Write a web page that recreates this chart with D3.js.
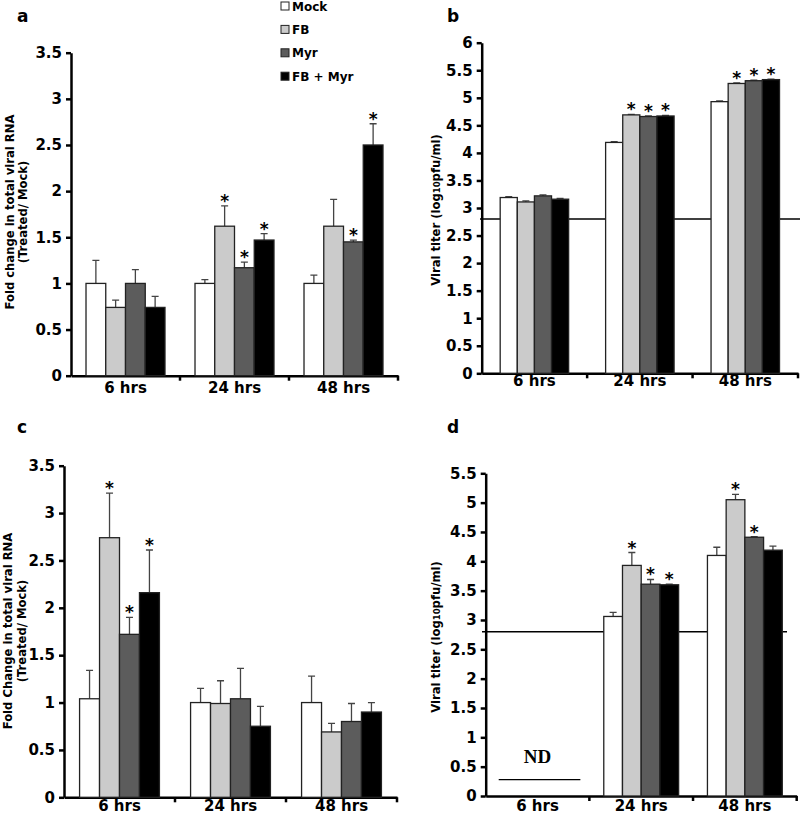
<!DOCTYPE html>
<html>
<head>
<meta charset="utf-8">
<script src="https://d3js.org/d3.v7.min.js"></script>
<style>
  body { margin: 0; background: #fff; }
  svg { display: block; }
  text { font-family: "DejaVu Sans", sans-serif; font-weight: bold; fill: #000; }
  .tick text { font-size: 15px; }
  .domain { stroke: #000; stroke-width: 2.5; }
  .tick line { stroke: #000; stroke-width: 2.5; }
  .bar { stroke: #222; stroke-width: 1.3; }
  .err { stroke: #444; stroke-width: 1.3; }
</style>
</head>
<body>
<svg width="800" height="815"></svg>
<script>
const times = ['6 hrs', '24 hrs', '48 hrs'];
const groups = ['Mock', 'FB', 'Myr', 'FB + Myr'];
const colors = ['#ffffff', '#cbcbcb', '#5c5c5c', '#000000'];

// values per time point, one entry per group
const aMean = [[1.00, 0.74, 1.00, 0.74], [1.00, 1.62, 1.17, 1.47], [1.00, 1.62, 1.45, 2.50]];
const aErr  = [[0.25, 0.08, 0.15, 0.12], [0.04, 0.22, 0.06, 0.07], [0.09, 0.29, 0.02, 0.23]];
const aStar = [[0, 0, 0, 0], [0, 1, 1, 1], [0, 0, 1, 1]];

const bMean = [[3.19, 3.11, 3.22, 3.16], [4.19, 4.69, 4.66, 4.67], [4.93, 5.26, 5.31, 5.33]];
const bErr  = [[0.015, 0.02, 0.02, 0.015], [0.015, 0.01, 0.01, 0.01], [0.015, 0.01, 0.01, 0.01]];
const bStar = [[0, 0, 0, 0], [0, 1, 1, 1], [0, 1, 1, 1]];

const cMean = [[1.04, 2.74, 1.72, 2.16], [1.00, 0.99, 1.04, 0.75], [1.00, 0.69, 0.80, 0.90]];
const cErr  = [[0.30, 0.47, 0.18, 0.45], [0.15, 0.24, 0.32, 0.21], [0.28, 0.09, 0.19, 0.10]];
const cStar = [[0, 1, 1, 1], [0, 0, 0, 0], [0, 0, 0, 0]];

const dMean = [[null, null, null, null], [3.06, 3.93, 3.61, 3.60], [4.10, 5.05, 4.41, 4.19]];
const dErr  = [[0, 0, 0, 0], [0.07, 0.22, 0.08, 0.01], [0.14, 0.09, 0.01, 0.07]];
const dStar = [[0, 0, 0, 0], [0, 1, 1, 1], [0, 1, 1, 0]];

const lod = 2.8;

const svg = d3.select('svg');

function panel(o) {
  const g = svg.append('g');
  const x = d3.scaleBand().domain(times).range([o.left, o.right]);
  const xi = d3.scaleBand().domain(groups).range([0, x.bandwidth()]).paddingOuter(o.pad);
  const y = d3.scaleLinear().domain([0, o.max]).range([o.bottom, o.top]);

  g.append('g')
    .attr('transform', `translate(${o.left},0)`)
    .call(d3.axisLeft(y).tickValues(d3.range(0, o.max + 0.01, 0.5))
      .tickFormat(d => d).tickSize(5).tickSizeOuter(0).tickPadding(4));

  const xa = g.append('g')
    .attr('transform', `translate(0,${o.bottom})`)
    .call(d3.axisBottom(x).tickSize(0).tickPadding(o.xpad));
  xa.selectAll('.bound')
    .data(times)
    .enter().append('line')
    .attr('class', 'bound')
    .attr('x1', t => x(t) + x.bandwidth())
    .attr('x2', t => x(t) + x.bandwidth())
    .attr('y1', 0).attr('y2', 5)
    .attr('stroke', '#000').attr('stroke-width', 2.5);

  const rows = [];
  times.forEach((t, i) => groups.forEach((k, j) => {
    if (o.mean[i][j] != null) rows.push({ t, k, j, v: o.mean[i][j], e: o.err[i][j], s: o.star[i][j] });
  }));

  if (o.lodLine) {
    g.append('line')
      .attr('x1', o.lodLine[0]).attr('x2', o.lodLine[1])
      .attr('y1', y(lod)).attr('y2', y(lod))
      .attr('stroke', '#000').attr('stroke-width', 1.6);
  }

  const cx = d => x(d.t) + xi(d.k) + xi.bandwidth() / 2;

  g.selectAll('.err').data(rows).enter().append('path')
    .attr('class', 'err')
    .attr('fill', 'none')
    .attr('d', d => `M${cx(d)},${y(d.v)}V${y(d.v + d.e)}M${cx(d) - 3.5},${y(d.v + d.e)}H${cx(d) + 3.5}`);

  g.selectAll('.bar').data(rows).enter().append('rect')
    .attr('class', 'bar')
    .attr('x', d => x(d.t) + xi(d.k))
    .attr('y', d => y(d.v))
    .attr('width', xi.bandwidth())
    .attr('height', d => y(0) - y(d.v))
    .attr('fill', d => colors[d.j]);

  g.selectAll('.star').data(rows.filter(d => d.s)).enter().append('text')
    .attr('x', cx)
    .attr('y', d => y(d.v + d.e) + 1)
    .attr('text-anchor', 'middle')
    .style('font-size', '17px')
    .text('*');

  // axis title
  const tt = g.append('text')
    .attr('transform', `translate(${o.titleX},${o.titleY}) rotate(-90)`)
    .attr('text-anchor', 'middle')
    .style('font-size', '11.6px');
  o.title.forEach((line, i) => {
    const ts = tt.append('tspan').attr('x', 0).attr('y', o.lineGap * i);
    if (Array.isArray(line)) {
      ts.append('tspan').text(line[0]);
      ts.append('tspan').style('font-size', '8.5px').text(line[1]);
      ts.append('tspan').text(line[2]);
    } else {
      ts.text(line);
    }
  });

  g.append('text')
    .attr('x', o.letter[0]).attr('y', o.letter[1])
    .style('font-size', '17px')
    .text(o.name);

  return { g, x, xi, y };
}

panel({
  name: 'a', mean: aMean, err: aErr, star: aStar,
  left: 71, right: 398, top: 52.7, bottom: 375.7, max: 3.5, pad: 0.76, xpad: 7,
  title: ['Fold change in total viral RNA', '(Treated/ Mock)'], lineGap: 12.8,
  titleX: 14, titleY: 212, letter: [17, 21.7]
});

panel({
  name: 'b', mean: bMean, err: bErr, star: bStar,
  left: 481.7, right: 798, top: 42.7, bottom: 373.3, max: 6, pad: 1.08, xpad: 2,
  title: [['Viral titer (log', '10', 'pfu/ml)']], lineGap: 0,
  titleX: 440, titleY: 210, letter: [447, 21.7], lodLine: [480, 800]
});

panel({
  name: 'c', mean: cMean, err: cErr, star: cStar,
  left: 64, right: 397, top: 465.7, bottom: 797.3, max: 3.5, pad: 0.78, xpad: 3.5,
  title: ['Fold Change in total viral RNA', '(Treated/ Mock)'], lineGap: 14,
  titleX: 12, titleY: 631, letter: [17, 433]
});

const pd = panel({
  name: 'd', mean: dMean, err: dErr, star: dStar,
  left: 485.7, right: 796.7, top: 473.3, bottom: 796, max: 5.5, pad: 0.77, xpad: 4,
  title: [['Viral titer (log', '10', 'pfu/ml)']], lineGap: 0,
  titleX: 440, titleY: 637, letter: [447, 433], lodLine: [482, 787]
});

// not detected at 6 hrs
const t0 = pd.x(times[0]);
pd.g.append('text')
  .attr('x', t0 + pd.x.bandwidth() / 2)
  .attr('y', pd.y(0.57))
  .attr('text-anchor', 'middle')
  .style('font-family', '"Liberation Serif", serif')
  .style('font-size', '19px')
  .text('ND');
pd.g.append('line')
  .attr('x1', t0 + 13).attr('x2', t0 + pd.x.bandwidth() - 9)
  .attr('y1', pd.y(0.28)).attr('y2', pd.y(0.28))
  .attr('stroke', '#000').attr('stroke-width', 1.3);

// legend
const leg = svg.append('g').attr('transform', 'translate(281,2)');
groups.forEach((k, i) => {
  const r = leg.append('g').attr('transform', `translate(0,${i * 23.4})`);
  r.append('rect').attr('width', 8).attr('height', 8)
    .attr('fill', colors[i]).attr('stroke', '#222').attr('stroke-width', 1);
  r.append('text').attr('x', 11).attr('y', 8.5)
    .style('font-size', '12px').text(k);
});
</script>
</body>
</html>
